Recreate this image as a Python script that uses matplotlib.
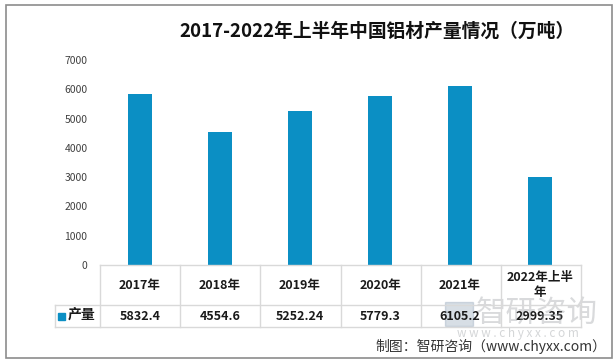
import matplotlib
matplotlib.use("Agg")
import matplotlib.pyplot as plt
from matplotlib.transforms import blended_transform_factory
from matplotlib.patches import Rectangle
from matplotlib.lines import Line2D

plt.rcParams['font.family'] = ['Noto Sans CJK SC', 'DejaVu Sans']

categories = ['2017年', '2018年', '2019年', '2020年', '2021年', '2022年上半\n年']
values = [5832.4, 4554.6, 5252.24, 5779.3, 6105.2, 2999.35]
value_labels = ['5832.4', '4554.6', '5252.24', '5779.3', '6105.2', '2999.35']
series_name = '产量'
title = '2017-2022年上半年中国铝材产量情况（万吨）'
yticks = [0, 1000, 2000, 3000, 4000, 5000, 6000, 7000]

W, H = 615, 364
fig = plt.figure(figsize=(W / 100, H / 100), dpi=100)
fig.patch.set_facecolor('white')

def fx(px):
    return px / W

def fy(py):
    return 1 - py / H

# outer border
fig.add_artist(Rectangle((fx(6), fy(358)), fx(612) - fx(6), fy(5) - fy(358),
                         transform=fig.transFigure, fill=False, edgecolor='#8c8c8c', lw=1.2))

ax = fig.add_axes([fx(100), fy(265), fx(580) - fx(100), fy(60) - fy(265)])
x = list(range(len(categories)))
bar_color = '#0B8FC4'
ax.bar(x, values, width=0.3, color=bar_color)
ax.set_xlim(-0.5, len(categories) - 0.5)
ax.set_ylim(0, 7000)
ax.set_yticks(yticks)
ax.set_yticklabels([str(v) for v in yticks], fontsize=7.5, color='#404040')
ax.tick_params(axis='y', length=0, pad=9)
ax.set_xticks([])
for s in ax.spines.values():
    s.set_visible(False)

fig.text(fx(377), fy(31), title, ha='center', va='center', fontsize=13.5,
         fontweight='semibold', color='#111111')

# table lines
gc = '#d9d9d9'
def hline(x0, x1, y):
    fig.add_artist(Line2D([fx(x0), fx(x1)], [fy(y), fy(y)], transform=fig.transFigure, color=gc, lw=1))
def vline(xp, y0, y1):
    fig.add_artist(Line2D([fx(xp), fx(xp)], [fy(y0), fy(y1)], transform=fig.transFigure, color=gc, lw=1))

hline(100, 581, 265)
hline(55, 581, 305)
hline(55, 581, 327)
vline(55, 305, 327)
for i in range(len(categories) + 1):
    xp = 100 + i * 80.2
    vline(xp, 265, 327)

# watermark (drawn beneath table text)
fig.add_artist(Rectangle((fx(445), fy(326)), fx(28), fy(0) - fy(24), transform=fig.transFigure,
                         color='#7d93ab', alpha=0.3, zorder=0))
fig.text(fx(537), fy(313), '智研咨询', ha='center', va='center', fontsize=22,
         color='#a0a4a8', alpha=0.4, zorder=0)
fig.text(fx(518), fy(333), 'w w w . c h y x x . c o m', ha='center', va='center', fontsize=8.5,
         color='#a0a4a8', alpha=0.45, zorder=0)

tr = blended_transform_factory(ax.transData, fig.transFigure)
for xi, cat, lab in zip(x, categories, value_labels):
    ax.text(xi, fy(285), cat, transform=tr, ha='center', va='center', fontsize=9,
            fontweight='bold', color='#1a1a1a', linespacing=1.15, clip_on=False)
    ax.text(xi, fy(316), lab, transform=tr, ha='center', va='center', fontsize=9,
            fontweight='bold', color='#1a1a1a', clip_on=False)

# row label with legend key
fig.add_artist(Rectangle((fx(58), fy(320)), fx(7), fy(0) - fy(7), transform=fig.transFigure,
                         color=bar_color))
fig.text(fx(68), fy(315), series_name, ha='left', va='center', fontsize=10,
         fontweight='bold', color='#1a1a1a')

fig.text(fx(606), fy(346), '制图：智研咨询（www.chyxx.com）', ha='right', va='center',
         fontsize=10, color='#333333')

fig.savefig('out.png', dpi=100, facecolor='white')
